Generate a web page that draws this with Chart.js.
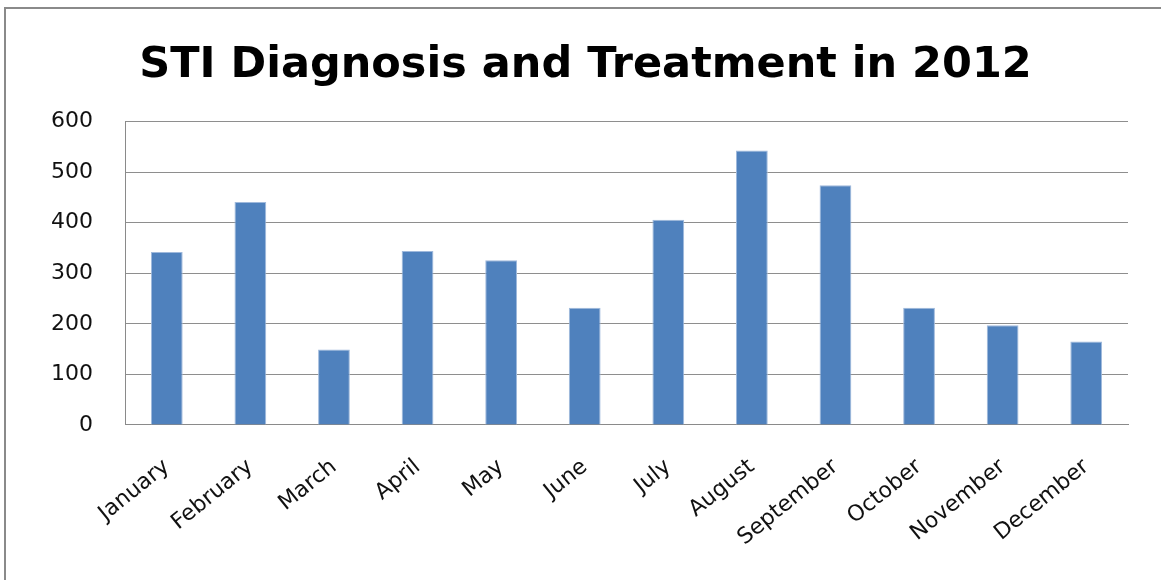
<!doctype html>
<html lang="en">
<head>
<meta charset="utf-8">
<title>STI Diagnosis and Treatment in 2012</title>
<script src="https://cdn.jsdelivr.net/npm/chart.js@4"></script>
<style>
  html, body { margin: 0; padding: 0; background: #fff; overflow: hidden; }
  #frame {
    position: absolute; left: 4px; top: 7px; width: 1200px; height: 620px;
    border: 2px solid #8a8a8a; box-sizing: border-box;
  }
  #wrap { position: absolute; left: 0; top: 0; width: 1161px; height: 580px; }
</style>
</head>
<body>
<div id="frame"></div>
<div id="wrap"><canvas id="chart" width="1161" height="580"></canvas></div>
<script>
// data
var months = ["January", "February", "March", "April", "May", "June",
              "July", "August", "September", "October", "November", "December"];
var cases = [342, 441, 149, 344, 326, 232, 406, 543, 474, 232, 197, 165];
var yTicks = [0, 100, 200, 300, 400, 500, 600];

var ctx = document.getElementById("chart").getContext("2d");
var chart = new Chart(ctx, {
  type: 'bar',
  data: {
    labels: months,
    datasets: [{
      data: cases,
      backgroundColor: '#4f81bd',
      borderColor: '#9fb9dc',
      borderWidth: 1,
      categoryPercentage: 1,
      barPercentage: 0.38
    }]
  },
  options: {
    responsive: false,
    animation: false,
    layout: { padding: { left: 43, right: 33, top: 40, bottom: 8 } },
    plugins: {
      legend: { display: false },
      tooltip: { enabled: false },
      title: {
        display: true,
        text: 'STI Diagnosis and Treatment in 2012',
        color: '#000',
        font: { family: 'DejaVu Sans', size: 43, weight: 'bold' },
        padding: { top: 0, bottom: 30 }
      }
    },
    scales: {
      x: {
        grid: { display: false },
        border: { color: '#8a8a8a', width: 1 },
        afterFit: function (scale) {
          // rotated labels hang off to the left, don't let that push the plot
          scale.paddingLeft = 0;
          scale.paddingRight = 0;
        },
        ticks: {
          color: '#111',
          font: { family: 'DejaVu Sans', size: 22 },
          minRotation: 39, maxRotation: 39,
          padding: 21
        }
      },
      y: {
        min: 0, max: 600,
        afterBuildTicks: function (axis) {
          axis.ticks = yTicks.map(function (v) { return { value: v }; });
        },
        afterFit: function (scale) { scale.width = 82; },
        grid: { color: '#8e8e8e', lineWidth: 1, drawTicks: false },
        border: { color: '#8a8a8a', width: 1 },
        ticks: {
          color: '#111',
          font: { family: 'DejaVu Sans', size: 22 },
          padding: 32
        }
      }
    }
  }
});
</script>
</body>
</html>
